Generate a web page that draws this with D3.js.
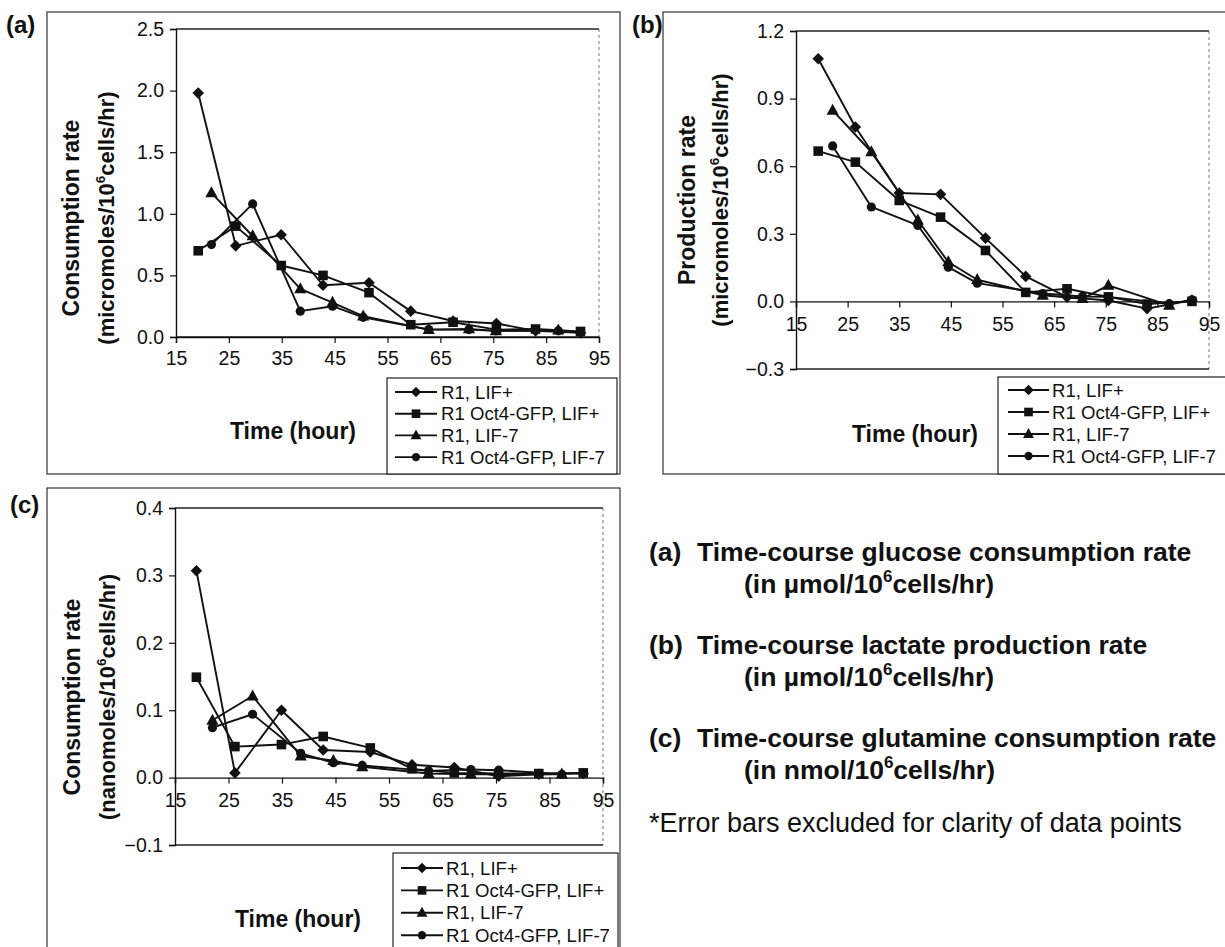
<!DOCTYPE html>
<html>
<head>
<meta charset="utf-8">
<script src="https://cdn.jsdelivr.net/npm/d3@7"></script>
<style>
  body { margin: 0; background: #fff; }
  svg { display: block; }
  text { font-family: "Liberation Sans", Arial, Helvetica, sans-serif; fill: #111; }
</style>
</head>
<body>
<svg id="fig" width="1225" height="947"></svg>
<script>
// ---- data -------------------------------------------------------------
const seriesNames = ["R1, LIF+", "R1 Oct4-GFP, LIF+", "R1, LIF-7", "R1 Oct4-GFP, LIF-7"];
const xTickValues = [15, 25, 35, 45, 55, 65, 75, 85, 95];

// (a) glucose consumption, micromoles/10^6 cells/hr
const glucoseTimesLIFplus = [19.2, 26.3, 34.9, 42.8, 51.5, 59.4, 67.4, 75.6, 83, 91.5];
const glucoseTimesLIF7 = [21.7, 29.5, 38.5, 44.6, 50.4, 62.8, 70.4, 75.5, 87.3];
const glucoseR1LIFplus = [1.98, 0.74, 0.83, 0.42, 0.44, 0.21, 0.13, 0.11, 0.05, 0.035];
const glucoseOct4LIFplus = [0.70, 0.90, 0.58, 0.50, 0.36, 0.10, 0.12, 0.06, 0.065, 0.045];
const glucoseR1LIF7 = [1.17, 0.82, 0.39, 0.28, 0.17, 0.06, 0.065, 0.05, 0.055];
const glucoseOct4LIF7 = [0.75, 1.08, 0.21, 0.25, 0.16, 0.06, 0.06, 0.05, 0.05];
const glucoseYTicks = [0, 0.5, 1.0, 1.5, 2.0, 2.5];

// (b) lactate production, micromoles/10^6 cells/hr
const lactateTimesLIFplus = [19.3, 26.5, 35, 43, 51.7, 59.5, 67.5, 75.5, 83, 91.7];
const lactateTimesLIF7 = [22.1, 29.6, 38.6, 44.5, 50.1, 62.8, 70.5, 75.5, 87.3, 91.7];
const lactateR1LIFplus = [1.077, 0.774, 0.481, 0.475, 0.281, 0.111, 0.019, 0.004, -0.032, 0.005];
const lactateOct4LIFplus = [0.667, 0.618, 0.448, 0.374, 0.226, 0.04, 0.056, 0.02, -0.012, 0.0];
const lactateR1LIF7 = [0.848, 0.663, 0.36, 0.175, 0.096, 0.027, 0.012, 0.071, -0.018];
const lactateOct4LIF7 = [0.69, 0.419, 0.337, 0.152, 0.081, 0.035, 0.022, 0.02, -0.01, 0.007];
const lactateYTicks = [-0.3, 0, 0.3, 0.6, 0.9, 1.2];

// (c) glutamine consumption, nanomoles/10^6 cells/hr
const glutamineTimesLIFplus = [19.0, 26.2, 34.9, 42.7, 51.5, 59.3, 67.2, 75.5, 83, 91.3];
const glutamineTimesLIF7 = [22.0, 29.5, 38.5, 44.6, 50.0, 62.4, 70.3, 75.5, 87.3];
const glutamineR1LIFplus = [0.307, 0.007, 0.100, 0.041, 0.038, 0.019, 0.015, 0.002, 0.005, 0.006];
const glutamineOct4LIFplus = [0.149, 0.046, 0.049, 0.061, 0.044, 0.013, 0.007, 0.006, 0.006, 0.007];
const glutamineR1LIF7 = [0.085, 0.121, 0.032, 0.025, 0.016, 0.006, 0.005, 0.005, 0.005];
const glutamineOct4LIF7 = [0.074, 0.094, 0.036, 0.022, 0.018, 0.010, 0.012, 0.011, 0.005];
const glutamineYTicks = [-0.1, 0, 0.1, 0.2, 0.3, 0.4];

// ---- drawing ------------------------------------------------------------
const svg = d3.select("#fig");
const FONT = '"Liberation Sans", Arial, Helvetica, sans-serif';

const markerPaths = {
  diamond: r => `M0,${-r}L${r},0L0,${r}L${-r},0Z`,
  square: r => `M${-r},${-r}H${r}V${r}H${-r}Z`,
  triangle: r => `M0,${-r * 1.15}L${r * 1.05},${r * 0.75}L${-r * 1.05},${r * 0.75}Z`,
  circle: r => `M${r},0A${r},${r},0,1,1,${-r},0A${r},${r},0,1,1,${r},0Z`
};
const markerOrder = ["diamond", "square", "triangle", "circle"];
const markerSize = { diamond: 5.8, square: 4.8, triangle: 5.8, circle: 4.6 };

function unitTitle(g, x, y, size, before, after) {
  const t = g.append("text")
    .attr("transform", `translate(${x},${y}) rotate(-90)`)
    .attr("text-anchor", "middle")
    .attr("font-weight", "bold")
    .attr("font-size", size);
  t.append("tspan").text(before);
  t.append("tspan").attr("dy", -size * 0.42).attr("font-size", size * 0.62).text("6");
  t.append("tspan").attr("dy", size * 0.42).text(after);
}

function drawPanel(p) {
  const g = svg.append("g");

  // chart frame
  g.append("rect")
    .attr("x", p.frame.x).attr("y", p.frame.y)
    .attr("width", p.frame.w).attr("height", p.frame.h)
    .attr("fill", "none").attr("stroke", "#333").attr("stroke-width", 1.2);

  // panel letter
  g.append("text").attr("x", p.letter.x).attr("y", p.letter.y)
    .attr("font-size", 24).attr("font-weight", "bold").text(p.letter.text);

  const x = d3.scaleLinear().domain([15, 95]).range([p.plot.x0, p.plot.x1]);
  const y = d3.scaleLinear().domain(p.yDomain).range([p.plot.y1, p.plot.y0]);

  // plot-area border: top solid, right dotted, bottom solid
  g.append("line").attr("x1", x(15)).attr("x2", x(95)).attr("y1", y(p.yDomain[1])).attr("y2", y(p.yDomain[1]))
    .attr("stroke", "#222").attr("stroke-width", 1.3);
  g.append("line").attr("x1", x(95)).attr("x2", x(95)).attr("y1", y(p.yDomain[1])).attr("y2", y(p.yDomain[0]))
    .attr("stroke", "#777").attr("stroke-width", 1).attr("stroke-dasharray", "3,3");
  g.append("line").attr("x1", x(15)).attr("x2", x(95)).attr("y1", y(p.yDomain[0])).attr("y2", y(p.yDomain[0]))
    .attr("stroke", "#222").attr("stroke-width", 1.3);

  // y axis
  const yAxis = d3.axisLeft(y).tickValues(p.yTicks).tickFormat(d3.format(".1f")).tickSize(6).tickPadding(6);
  const ya = g.append("g").attr("transform", `translate(${x(15)},0)`).call(yAxis);
  ya.select(".domain").attr("stroke", "#111").attr("stroke-width", 1.4);
  ya.selectAll(".tick line").attr("stroke", "#111").attr("stroke-width", 1.2);
  ya.selectAll(".tick text").attr("font-family", FONT).attr("font-size", 19.5).attr("fill", "#111");

  // x axis along the zero line
  const xAxis = d3.axisBottom(x).tickValues(xTickValues).tickFormat(d3.format("d")).tickSize(6).tickPadding(p.xPad);
  const xa = g.append("g").attr("transform", `translate(0,${y(0)})`).call(xAxis);
  xa.select(".domain").attr("stroke", "#111").attr("stroke-width", 1.4);
  xa.selectAll(".tick line").attr("stroke", "#111").attr("stroke-width", 1.2);
  xa.selectAll(".tick text").attr("font-family", FONT).attr("font-size", 19.5).attr("fill", "#111");

  // axis titles
  unitTitle(g, p.yTitle.x2, p.yTitle.cy, 22, p.yTitle.unitBefore, p.yTitle.unitAfter);
  g.append("text")
    .attr("transform", `translate(${p.yTitle.x1},${p.yTitle.cy}) rotate(-90)`)
    .attr("text-anchor", "middle").attr("font-weight", "bold").attr("font-size", 23)
    .text(p.yTitle.main);
  g.append("text").attr("x", p.xTitle.cx).attr("y", p.xTitle.y)
    .attr("text-anchor", "middle").attr("font-weight", "bold").attr("font-size", 23)
    .text("Time (hour)");

  // series
  const line = d3.line().x(d => x(d[0])).y(d => y(d[1]));
  p.series.forEach((s, i) => {
    const pts = s.values.map((v, k) => [s.times[k], v]);
    g.append("path").datum(pts).attr("d", line)
      .attr("fill", "none").attr("stroke", "#111").attr("stroke-width", 1.9)
      .attr("stroke-linejoin", "round");
    const m = markerOrder[i];
    g.selectAll(null).data(pts).join("path")
      .attr("transform", d => `translate(${x(d[0])},${y(d[1])})`)
      .attr("d", markerPaths[m](markerSize[m]))
      .attr("fill", "#111");
  });

  // legend
  const L = p.legend;
  g.append("rect").attr("x", L.x).attr("y", L.y).attr("width", L.w).attr("height", L.h)
    .attr("fill", "#fff").attr("stroke", "#222").attr("stroke-width", 1.2);
  seriesNames.forEach((name, i) => {
    const ry = L.row0 + i * L.rowStep;
    g.append("line").attr("x1", L.lx0).attr("x2", L.lx1).attr("y1", ry).attr("y2", ry)
      .attr("stroke", "#111").attr("stroke-width", 1.9);
    const m = markerOrder[i];
    g.append("path").attr("transform", `translate(${(L.lx0 + L.lx1) / 2},${ry})`)
      .attr("d", markerPaths[m](markerSize[m] * 0.9)).attr("fill", "#111");
    g.append("text").attr("x", L.tx).attr("y", ry + 6.5).attr("font-size", 18.6).text(name);
  });
}

const panels = [
  {
    letter: { text: "(a)", x: 6, y: 33 },
    frame: { x: 47, y: 12, w: 573, h: 462 },
    plot: { x0: 176, x1: 599, y0: 29, y1: 337 },
    yDomain: [0, 2.5], yTicks: glucoseYTicks, xPad: 8,
    yTitle: { x1: 79, x2: 114, cy: 218, main: "Consumption rate", unitBefore: "(micromoles/10", unitAfter: "cells/hr)" },
    xTitle: { cx: 293, y: 439 },
    legend: { x: 387, y: 378, w: 230, h: 96, row0: 392, rowStep: 21.7, lx0: 395, lx1: 437, tx: 441 },
    series: [
      { times: glucoseTimesLIFplus, values: glucoseR1LIFplus },
      { times: glucoseTimesLIFplus, values: glucoseOct4LIFplus },
      { times: glucoseTimesLIF7, values: glucoseR1LIF7 },
      { times: glucoseTimesLIF7, values: glucoseOct4LIF7 }
    ]
  },
  {
    letter: { text: "(b)", x: 632, y: 33 },
    frame: { x: 663, y: 12, w: 600, h: 462 },
    plot: { x0: 796, x1: 1209, y0: 31, y1: 369 },
    yDomain: [-0.3, 1.2], yTicks: lactateYTicks, xPad: 10,
    yTitle: { x1: 695, x2: 728, cy: 200, main: "Production rate", unitBefore: "(micromoles/10", unitAfter: "cells/hr)" },
    xTitle: { cx: 915, y: 442 },
    legend: { x: 998, y: 377, w: 240, h: 97, row0: 390, rowStep: 22, lx0: 1008, lx1: 1049, tx: 1052 },
    series: [
      { times: lactateTimesLIFplus, values: lactateR1LIFplus },
      { times: lactateTimesLIFplus, values: lactateOct4LIFplus },
      { times: lactateTimesLIF7, values: lactateR1LIF7 },
      { times: lactateTimesLIF7, values: lactateOct4LIF7 }
    ]
  },
  {
    letter: { text: "(c)", x: 10, y: 513 },
    frame: { x: 47, y: 488, w: 573, h: 470 },
    plot: { x0: 175, x1: 603, y0: 508, y1: 845 },
    yDomain: [-0.1, 0.4], yTicks: glutamineYTicks, xPad: 10,
    yTitle: { x1: 80, x2: 115, cy: 697, main: "Consumption rate", unitBefore: "(nanomoles/10", unitAfter: "cells/hr)" },
    xTitle: { cx: 298, y: 927 },
    legend: { x: 393, y: 853, w: 225, h: 100, row0: 868, rowStep: 22.4, lx0: 401, lx1: 443, tx: 446 },
    series: [
      { times: glutamineTimesLIFplus, values: glutamineR1LIFplus },
      { times: glutamineTimesLIFplus, values: glutamineOct4LIFplus },
      { times: glutamineTimesLIF7, values: glutamineR1LIF7 },
      { times: glutamineTimesLIF7, values: glutamineOct4LIF7 }
    ]
  }
];
panels.forEach(drawPanel);

// ---- caption block --------------------------------------------------------
const captions = [
  { tag: "(a)", line1: "Time-course glucose consumption rate", unit: "(in \u00b5mol/10", y: 561 },
  { tag: "(b)", line1: "Time-course lactate production rate", unit: "(in \u00b5mol/10", y: 654 },
  { tag: "(c)", line1: "Time-course glutamine consumption rate", unit: "(in nmol/10", y: 747 }
];
const cap = svg.append("g").attr("font-weight", "bold");
captions.forEach(c => {
  cap.append("text").attr("x", 649).attr("y", c.y).attr("font-size", 26.5).text(c.tag);
  cap.append("text").attr("x", 697).attr("y", c.y).attr("font-size", 26.5).text(c.line1);
  const t = cap.append("text").attr("x", 744).attr("y", c.y + 32).attr("font-size", 26.5);
  t.append("tspan").text(c.unit);
  t.append("tspan").attr("dy", -11).attr("font-size", 17).text("6");
  t.append("tspan").attr("dy", 11).text("cells/hr)");
});
svg.append("text").attr("x", 649).attr("y", 832).attr("font-size", 27)
  .text("*Error bars excluded for clarity of data points");
</script>
</body>
</html>
